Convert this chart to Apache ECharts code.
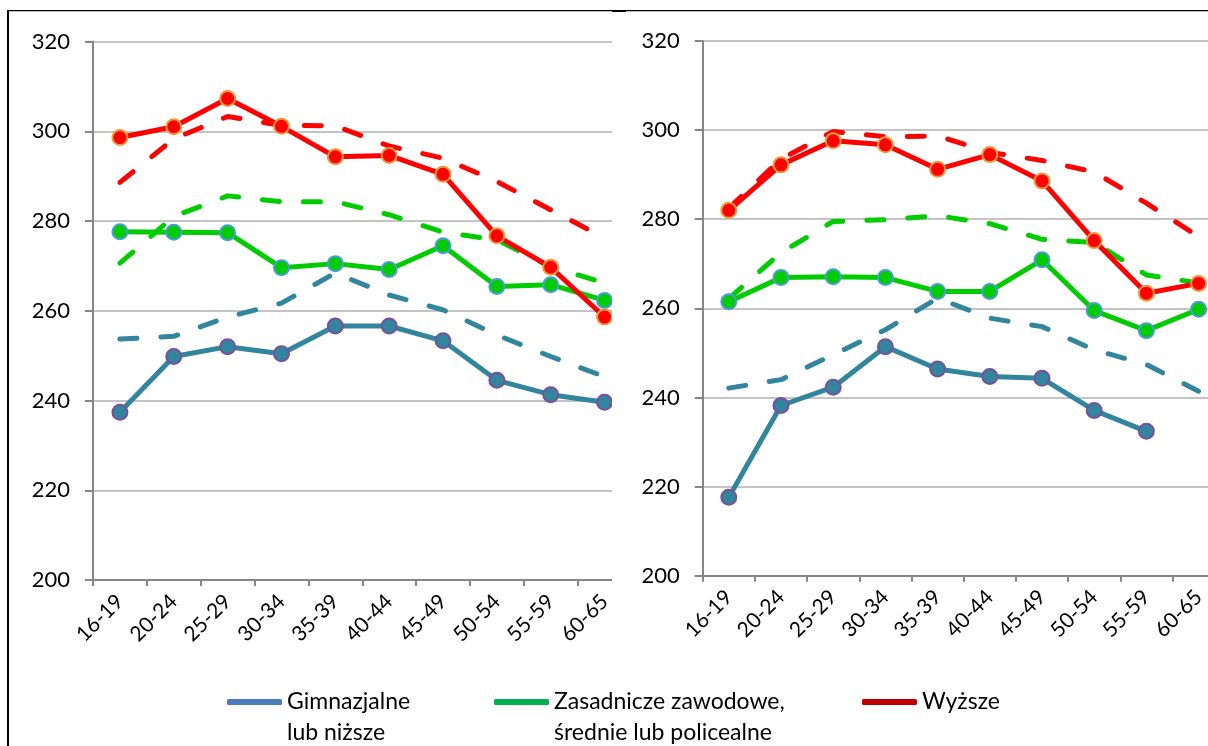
<!DOCTYPE html>
<html>
<head>
<meta charset="utf-8">
<script src="https://cdn.jsdelivr.net/npm/echarts@6/dist/echarts.min.js"></script>
<style>
html,body{margin:0;padding:0;background:#fff;}
#chart{width:1208px;height:746px;}
</style>
</head>
<body>
<div id="chart"></div>
<script>
const categories = ['16-19','20-24','25-29','30-34','35-39','40-44','45-49','50-54','55-59','60-65'];
const yTicks = [200, 220, 240, 260, 280, 300, 320];
const seriesNames = ['Gimnazjalne lub niższe', 'Zasadnicze zawodowe, średnie lub policealne', 'Wyższe'];
const legendLines = [['Gimnazjalne', 'lub niższe'], ['Zasadnicze zawodowe,', 'średnie lub policealne'], ['Wyższe']];

// left panel
const leftLowSolid   = [237.4, 249.8, 252.0, 250.4, 256.6, 256.6, 253.3, 244.5, 241.3, 239.6];
const leftLowDashed  = [253.7, 254.3, 258.6, 261.7, 268.4, 263.5, 260.2, 254.6, 249.8, 245.3];
const leftMidSolid   = [277.6, 277.5, 277.4, 269.6, 270.5, 269.2, 274.5, 265.4, 265.8, 262.3];
const leftMidDashed  = [270.6, 281.0, 285.6, 284.3, 284.3, 281.4, 277.5, 275.8, 269.8, 266.2];
const leftHighSolid  = [298.6, 301.0, 307.3, 301.1, 294.3, 294.6, 290.4, 276.7, 269.7, 258.6];
const leftHighDashed = [288.6, 298.3, 303.3, 301.3, 301.2, 296.7, 294.0, 288.8, 282.5, 276.2];

// right panel
const rightLowSolid   = [217.6, 238.2, 242.3, 251.4, 246.4, 244.7, 244.3, 237.1, 232.4, null];
const rightLowDashed  = [242.1, 244.0, 249.6, 255.2, 262.3, 257.8, 255.9, 250.7, 247.4, 241.4];
const rightMidSolid   = [261.5, 266.9, 267.1, 266.9, 263.8, 263.8, 270.9, 259.5, 255.0, 259.8];
const rightMidDashed  = [262.2, 272.5, 279.5, 279.9, 280.8, 279.0, 275.5, 274.8, 267.5, 265.7];
const rightHighSolid  = [282.0, 292.2, 297.6, 296.7, 291.2, 294.5, 288.6, 275.2, 263.4, 265.6];
const rightHighDashed = [282.5, 293.5, 299.7, 298.5, 298.7, 295.0, 293.2, 290.6, 283.6, 276.1];

const lineColors = ['#31859c', '#00cc00', '#ff0000'];
const markerBorders = ['#7a4f9c', '#4a9bd8', '#e89a3c'];
const legendColors = ['#4a7ebb', '#00b050', '#c00000'];
const FONT = 'Lato';

function solid(idx, data, axis) {
  return {
    type: 'line', name: seriesNames[idx], data: data,
    xAxisIndex: axis, yAxisIndex: axis,
    symbol: 'circle', symbolSize: 15,
    itemStyle: { color: lineColors[idx], borderColor: markerBorders[idx], borderWidth: 2 },
    lineStyle: { color: lineColors[idx], width: 5 },
    z: 5, animation: false, silent: true
  };
}
function dashed(idx, data, axis) {
  return {
    type: 'line', name: seriesNames[idx], data: data,
    xAxisIndex: axis, yAxisIndex: axis,
    symbol: 'none', showSymbol: false,
    itemStyle: { color: lineColors[idx] },
    lineStyle: { color: lineColors[idx], width: 5, type: [17, 24], cap: 'round' },
    z: 3, animation: false, silent: true
  };
}
function xAxis(gi) {
  return {
    type: 'category', gridIndex: gi, data: categories, boundaryGap: true,
    axisLine: { show: true, lineStyle: { color: '#868686', width: 2 } },
    axisTick: { show: true, length: 6, lineStyle: { color: '#868686', width: 2 } },
    axisLabel: { rotate: 45, margin: 18, color: '#000', fontFamily: FONT, fontSize: 21, interval: 0 },
    splitLine: { show: false }
  };
}
function yAxis(gi) {
  return {
    type: 'value', gridIndex: gi, min: 200, max: 320, interval: 20,
    axisLine: { show: true, lineStyle: { color: '#868686', width: 2 } },
    axisTick: { show: true, length: 8, lineStyle: { color: '#868686', width: 2 } },
    axisLabel: { margin: 23, color: '#000', fontFamily: FONT, fontSize: 22 },
    splitLine: { show: true, lineStyle: { color: '#c4c4c4', width: 2 } }
  };
}
function legend(i, left, top) {
  return {
    show: true, left: left, top: top, orient: 'horizontal', padding: 0,
    selectedMode: false, itemWidth: 55, itemHeight: 6, itemGap: 0,
    data: [{ name: seriesNames[i], icon: 'roundRect',
             itemStyle: { color: legendColors[i], borderWidth: 0 } }],
    formatter: function () {
      return legendLines[i].length > 1 ? '\n' + legendLines[i].join('\n') : legendLines[i][0];
    },
    textStyle: { fontFamily: FONT, fontSize: 23, color: '#000', lineHeight: 31 }
  };
}

const chart = echarts.init(document.getElementById('chart'), null, { renderer: 'canvas' });
chart.setOption({
  backgroundColor: '#fff',
  animation: false,
  grid: [
    { left: 93, top: 41.5, width: 538.5, height: 538.5, outerBoundsMode: 'none', containLabel: false },
    { left: 702.7, top: 41, width: 522, height: 534.7, outerBoundsMode: 'none', containLabel: false }
  ],
  xAxis: [xAxis(0), xAxis(1)],
  yAxis: [yAxis(0), yAxis(1)],
  legend: [legend(0, 227, 655.5), legend(1, 494, 655.5), legend(2, 862, 686.5)],
  series: [
    dashed(0, leftLowDashed, 0), dashed(1, leftMidDashed, 0), dashed(2, leftHighDashed, 0),
    solid(0, leftLowSolid, 0), solid(1, leftMidSolid, 0), solid(2, leftHighSolid, 0),
    dashed(0, rightLowDashed, 1), dashed(1, rightMidDashed, 1), dashed(2, rightHighDashed, 1),
    solid(0, rightLowSolid, 1), solid(1, rightMidSolid, 1), solid(2, rightHighSolid, 1)
  ],
  graphic: [
    { type: 'rect', z: 100, silent: true, shape: { x: 612, y: 20, width: 26, height: 574 }, style: { fill: '#fff' } },
    { type: 'rect', z: 101, silent: true, shape: { x: 7, y: 10, width: 1201, height: 1.2 }, style: { fill: '#000' } },
    { type: 'rect', z: 101, silent: true, shape: { x: 7, y: 10, width: 2, height: 736 }, style: { fill: '#000' } },
    { type: 'rect', z: 101, silent: true, shape: { x: 612, y: 10, width: 14, height: 2 }, style: { fill: '#000' } }
  ]
});
</script>
</body>
</html>
